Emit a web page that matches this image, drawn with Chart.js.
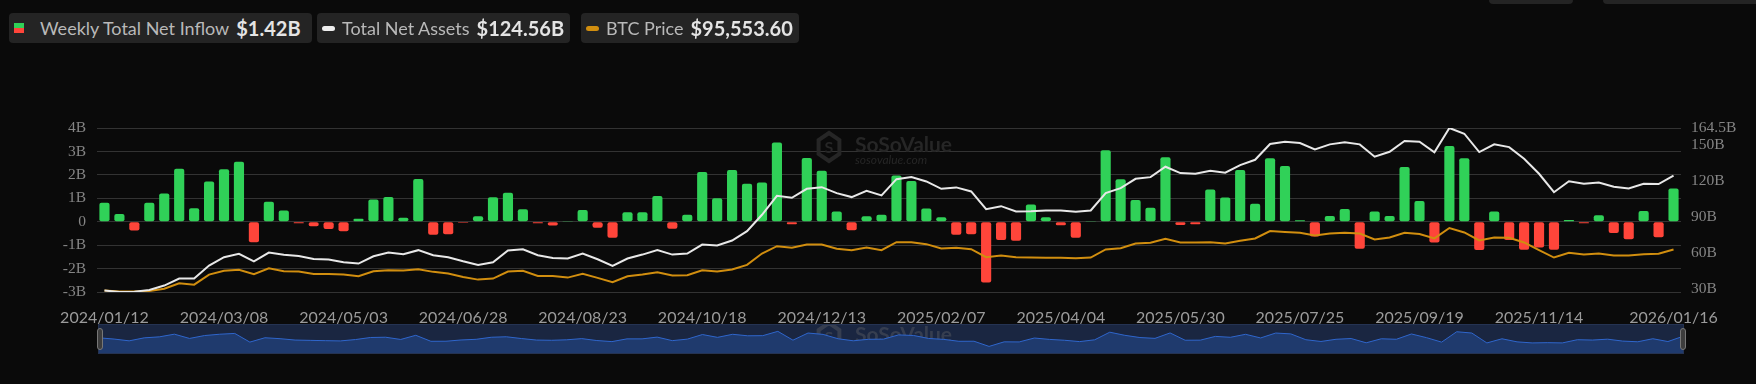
<!DOCTYPE html>
<html>
<head>
<meta charset="utf-8">
<script src="https://cdn.jsdelivr.net/npm/chart.js@4.4.1/dist/chart.umd.min.js"></script>
<style>
  html, body { margin: 0; padding: 0; background: #0a0a0a; width: 1756px; height: 384px; overflow: hidden; font-family: Lato, "Open Sans", sans-serif; }
  #main { position: absolute; left: 0; top: 0; }
  .legend { position: absolute; top: 13px; height: 30px; background: #242424; border-radius: 4px; display: flex; align-items: center; color: #b9b9b9; font-size: 18px; white-space: nowrap; padding: 0 6px 0 5px; box-sizing: border-box; }
  .legend b { color: #e4e4e4; font-size: 20px; font-weight: 700; margin-left: 7px; }
  .sq { width: 10px; height: 10px; background: linear-gradient(#30d158 50%, #ff453a 50%); margin-right: 16px; }
  .pill { width: 13px; height: 5px; border-radius: 3px; margin-right: 7px; }
  .topbox { position: absolute; top: -26px; height: 30px; background: #242424; border-radius: 4px; }
  #nav { position: absolute; left: 98px; top: 324px; width: 1586px; height: 30px; background: #1a2641; box-sizing: border-box; border: 1px solid #253352; }
  .handle { position: absolute; top: 328px; width: 6px; height: 22px; background: #3d3d3d; border: 1px solid #777; border-radius: 3px; box-sizing: border-box; }
</style>
</head>
<body>
<canvas id="main" width="1756" height="384"></canvas>

<div class="legend" style="left:9px; width:303px"><span class="sq"></span>Weekly Total Net Inflow<b>$1.42B</b></div>
<div class="legend" style="left:317px"><span class="pill" style="background:#eeeeee"></span>Total Net Assets<b>$124.56B</b></div>
<div class="legend" style="left:581px"><span class="pill" style="background:#d18e0f"></span>BTC Price<b>$95,553.60</b></div>
<div class="topbox" style="left:1489px; width:84px"></div>
<div class="topbox" style="left:1603px; width:160px"></div>

<div id="nav"><canvas id="navChart" width="1584" height="28"></canvas></div>
<div class="handle" style="left:97px"></div>
<div class="handle" style="left:1680px"></div>

<script>
const weekLabels = [
  '2024/01/12','2024/01/19','2024/01/26','2024/02/02','2024/02/09','2024/02/16','2024/02/23',
  '2024/03/01','2024/03/08','2024/03/15','2024/03/22','2024/03/29','2024/04/05','2024/04/12',
  '2024/04/19','2024/04/26','2024/05/03','2024/05/10','2024/05/17','2024/05/24','2024/05/31',
  '2024/06/07','2024/06/14','2024/06/21','2024/06/28','2024/07/05','2024/07/12','2024/07/19',
  '2024/07/26','2024/08/02','2024/08/09','2024/08/16','2024/08/23','2024/08/30','2024/09/06',
  '2024/09/13','2024/09/20','2024/09/27','2024/10/04','2024/10/11','2024/10/18','2024/10/25',
  '2024/11/01','2024/11/08','2024/11/15','2024/11/22','2024/11/29','2024/12/06','2024/12/13',
  '2024/12/20','2024/12/27','2025/01/03','2025/01/10','2025/01/17','2025/01/24','2025/01/31',
  '2025/02/07','2025/02/14','2025/02/21','2025/02/28','2025/03/07','2025/03/14','2025/03/21',
  '2025/03/28','2025/04/04','2025/04/11','2025/04/18','2025/04/25','2025/05/02','2025/05/09',
  '2025/05/16','2025/05/23','2025/05/30','2025/06/06','2025/06/13','2025/06/20','2025/06/27',
  '2025/07/04','2025/07/11','2025/07/18','2025/07/25','2025/08/01','2025/08/08','2025/08/15',
  '2025/08/22','2025/08/29','2025/09/05','2025/09/12','2025/09/19','2025/09/26','2025/10/03',
  '2025/10/10','2025/10/17','2025/10/24','2025/10/31','2025/11/07','2025/11/14','2025/11/21',
  '2025/11/28','2025/12/05','2025/12/12','2025/12/19','2025/12/26','2026/01/02','2026/01/09',
  '2026/01/16'
];
// labels actually printed under the axis
const shownLabels = ['2024/01/12','2024/03/08','2024/05/03','2024/06/28','2024/08/23','2024/10/18',
  '2024/12/13','2025/02/07','2025/04/04','2025/05/30','2025/07/25','2025/09/19','2025/11/14','2026/01/16'];

// weekly net inflow, billions USD
const netInflowB = [
  0.81, 0.33, -0.38, 0.81, 1.20, 2.26, 0.57, 1.72, 2.24, 2.56, -0.88, 0.85, 0.48, -0.07, -0.19, -0.31, -0.41, 0.13, 0.95, 1.05, 0.17,
  1.82, -0.56, -0.53, -0.04, 0.23, 1.04, 1.24, 0.53, -0.07, -0.16, 0.03, 0.50, -0.26, -0.68, 0.40, 0.40, 1.10, -0.30, 0.30, 2.12, 1.00,
  2.21, 1.62, 1.67, 3.38, -0.11, 2.72, 2.17, 0.44, -0.36, 0.23, 0.30, 1.97, 1.74, 0.56, 0.19, -0.56, -0.53, -2.59, -0.78, -0.81, 0.74,
  0.19, -0.15, -0.68, 0.03, 3.05, 1.81, 0.93, 0.60, 2.75, -0.14, -0.11, 1.38, 1.03, 2.21, 0.77, 2.71, 2.38, 0.06, -0.63, 0.24,
  0.54, -1.15, 0.44, 0.24, 2.34, 0.88, -0.89, 3.23, 2.71, -1.21, 0.44, -0.78, -1.20, -1.10, -1.20, 0.07, -0.07, 0.28, -0.48, -0.75, 0.46, -0.66, 1.42
];

// total net assets, billions USD
const totalNetAssetsB = [
  28.5, 27.4, 27.6, 29.0, 32.7, 38.5, 38.5, 49.4, 56.4, 59.2, 53.0, 60.3, 58.4, 57.5, 55.0, 54.4, 52.2, 51.1, 57.2, 60.3, 58.9,
  62.3, 58.1, 56.4, 53.0, 50.0, 52.2, 62.0, 63.1, 58.1, 55.8, 55.3, 59.5, 54.7, 49.1, 55.3, 58.6, 62.3, 58.6, 59.5, 67.0, 66.2,
  70.4, 78.2, 91.9, 107.8, 106.1, 113.6, 115.0, 110.0, 106.7, 112.0, 108.1, 121.7, 123.4, 119.8, 113.6, 114.8, 111.4, 96.6, 99.1, 94.7, 94.9,
  95.5, 95.5, 94.4, 95.5, 110.0, 114.2, 122.0, 123.4, 132.1, 126.8, 126.2, 128.7, 127.1, 133.5, 137.9, 151.1, 153.0, 151.9, 146.6, 150.8,
  152.5, 150.8, 140.5, 144.6, 153.6, 153.0, 144.1, 164.5, 159.7, 144.4, 150.8, 148.5, 138.8, 126.2, 110.8, 120.0, 117.8, 118.9, 115.3, 113.9, 117.8, 117.6, 124.56
];

// BTC price, thousands USD
const btcPriceK = [
  42.4, 41.1, 41.1, 41.9, 44.9, 51.9, 50.1, 63.1, 67.9, 69.2, 63.5, 71.3, 67.4, 67.0, 64.0, 64.0, 63.1, 60.9, 67.4, 68.7, 68.3,
  70.0, 66.6, 64.4, 60.1, 56.6, 57.9, 67.0, 67.9, 61.4, 61.4, 59.2, 64.0, 58.8, 53.2, 60.9, 63.1, 66.1, 61.8, 62.2, 68.7, 67.0,
  69.6, 75.6, 90.3, 99.8, 97.7, 102.0, 102.0, 96.4, 94.6, 98.1, 94.6, 105.0, 105.0, 102.4, 96.8, 97.7, 95.9, 85.6, 87.7, 85.6, 85.1,
  84.7, 84.7, 84.3, 85.1, 95.5, 97.2, 103.3, 104.1, 109.3, 104.6, 104.6, 105.0, 103.3, 106.7, 109.8, 119.3, 118.0, 117.1, 113.7, 116.2,
  117.1, 116.2, 108.5, 111.1, 117.1, 115.4, 109.8, 123.2, 117.5, 107.2, 111.1, 110.6, 104.6, 94.6, 85.1, 91.2, 89.0, 90.3, 87.7, 87.7, 89.5, 89.9, 95.553
];

const inflowTicks = [-3, -2, -1, 0, 1, 2, 3, 4];
const assetTicks = [30, 60, 90, 120, 150, 164.5];

const GREEN = '#30d158';
const RED = '#ff453a';

function drawWatermark(ctx, x, y, color) {
  ctx.save();
  ctx.strokeStyle = color;
  ctx.fillStyle = color;
  ctx.lineWidth = 4;
  ctx.beginPath();
  for (let k = 0; k < 6; k++) {
    const a = Math.PI / 3 * k - Math.PI / 2;
    const px = x + 12 * Math.cos(a), py = y + 14 * Math.sin(a);
    k ? ctx.lineTo(px, py) : ctx.moveTo(px, py);
  }
  ctx.closePath();
  ctx.stroke();
  ctx.font = 'bold 16px Lato';
  ctx.textAlign = 'center';
  ctx.textBaseline = 'middle';
  ctx.fillText('S', x, y + 1);
  ctx.textAlign = 'left';
  ctx.textBaseline = 'alphabetic';
  ctx.font = 'bold 21px Lato';
  ctx.fillText('SoSoValue', x + 26, y + 5);
  ctx.font = 'italic 12px Lato';
  ctx.fillText('sosovalue.com', x + 26, y + 17);
  ctx.restore();
}

const watermark = {
  id: 'watermark',
  beforeDatasetsDraw(chart, args, opts) {
    drawWatermark(chart.ctx, opts.x, opts.y, opts.color);
  }
};

const mainChart = new Chart(document.getElementById('main'), {
  data: {
    labels: weekLabels,
    datasets: [
      {
        type: 'line',
        label: 'Total Net Assets',
        data: totalNetAssetsB,
        yAxisID: 'yAssets',
        borderColor: '#e8e8e8',
        borderWidth: 2,
        pointRadius: 0,
        order: 1
      },
      {
        type: 'line',
        label: 'BTC Price',
        data: btcPriceK,
        yAxisID: 'yBtc',
        borderColor: '#d18e0f',
        borderWidth: 2,
        pointRadius: 0,
        order: 2
      },
      {
        type: 'bar',
        label: 'Weekly Total Net Inflow',
        data: netInflowB,
        yAxisID: 'y',
        backgroundColor: c => c.raw >= 0 ? GREEN : RED,
        barPercentage: 0.68,
        categoryPercentage: 1,
        borderRadius: 2,
        borderSkipped: false,
        order: 3
      }
    ]
  },
  options: {
    responsive: false,
    animation: false,
    layout: { padding: { top: 128, left: 0, right: 0, bottom: 0 } },
    plugins: {
      legend: { display: false },
      tooltip: { enabled: false },
      watermark: { x: 829, y: 147, color: '#262626' }
    },
    scales: {
      x: {
        offset: true,
        grid: { display: false },
        border: { display: false },
        ticks: {
          autoSkip: false,
          maxRotation: 0,
          color: '#9b9b9b',
          font: { family: 'Lato', size: 16 },
          padding: 8,
          callback: (v, i) => shownLabels.includes(weekLabels[i]) ? weekLabels[i] : ''
        },
        afterFit: s => { s.height = 92; }
      },
      y: {
        position: 'left',
        min: -3,
        max: 4,
        afterBuildTicks: s => { s.ticks = inflowTicks.map(v => ({ value: v })); },
        ticks: {
          color: '#858585',
          font: { family: 'Liberation Serif', size: 15.5 },
          padding: 11,
          callback: v => v === 0 ? '0' : v + 'B'
        },
        grid: { color: '#333333', lineWidth: 1, drawTicks: false },
        border: { display: false },
        afterFit: s => { s.width = 97; }
      },
      yAssets: {
        position: 'right',
        min: 27.3,
        max: 164.5,
        afterBuildTicks: s => { s.ticks = assetTicks.map(v => ({ value: v })); },
        ticks: {
          color: '#858585',
          font: { family: 'Liberation Serif', size: 15.5 },
          padding: 10,
          callback: v => v + 'B'
        },
        grid: { drawOnChartArea: false, drawTicks: false },
        border: { display: false },
        afterFit: s => { s.width = 75; }
      },
      yBtc: { display: false, min: 40.6, max: 252.4 }
    }
  },
  plugins: [watermark]
});

// preview strip under the chart
const navChart = new Chart(document.getElementById('navChart'), {
  type: 'line',
  data: {
    labels: weekLabels,
    datasets: [{
      data: netInflowB,
      borderColor: '#2f66cc',
      borderWidth: 1,
      backgroundColor: '#1f3a6d',
      fill: 'start',
      pointRadius: 0
    }]
  },
  options: {
    responsive: false,
    animation: false,
    layout: { padding: 0 },
    plugins: {
      legend: { display: false },
      tooltip: { enabled: false },
      watermark: { x: 730, y: 12, color: 'rgba(110,110,110,0.35)' }
    },
    scales: {
      x: { display: false },
      y: { display: false, min: -5.2, max: 5.9 }
    }
  },
  plugins: [watermark]
});
</script>
</body>
</html>
